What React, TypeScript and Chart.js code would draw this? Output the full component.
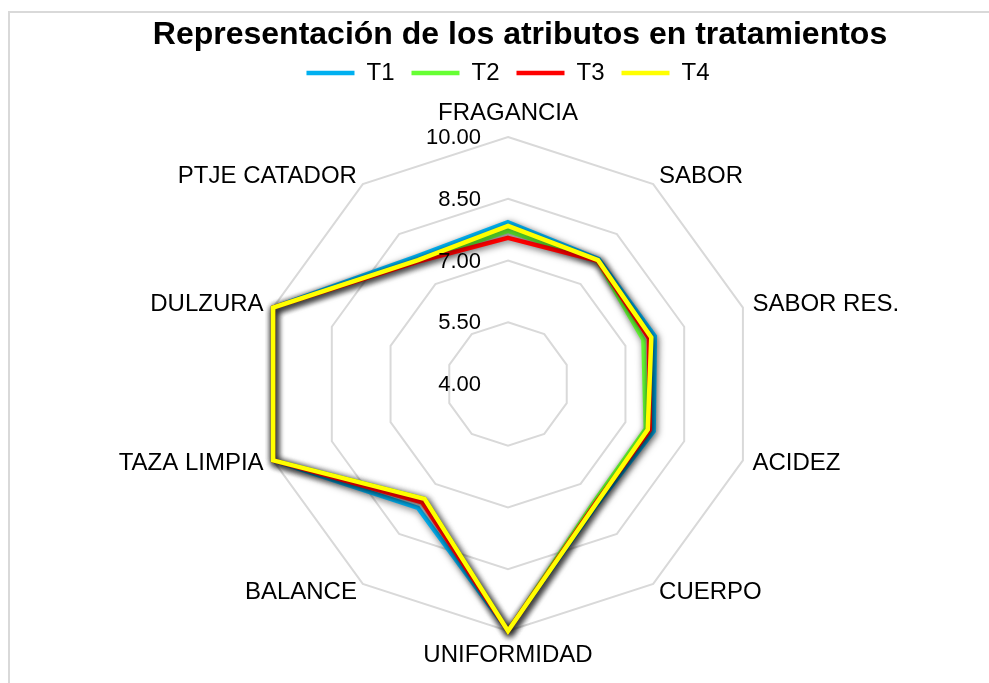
import React, { useEffect, useRef } from "react";
import { Chart, registerables } from "chart.js";

Chart.register(...registerables);

const categories = [
  "FRAGANCIA",
  "SABOR",
  "SABOR RES.",
  "ACIDEZ",
  "CUERPO",
  "UNIFORMIDAD",
  "BALANCE",
  "TAZA LIMPIA",
  "DULZURA",
  "PTJE CATADOR",
];
const seriesNames = ["T1", "T2", "T3", "T4"];
const t1Values = [7.93, 7.75, 7.75, 7.72, 7.65, 10, 7.72, 10, 10, 7.82];
const t2Values = [7.72, 7.7, 7.46, 7.52, 7.55, 10, 7.45, 10, 10, 7.7];
const t3Values = [7.55, 7.7, 7.6, 7.62, 7.6, 10, 7.55, 10, 10, 7.68];
const t4Values = [7.84, 7.72, 7.66, 7.57, 7.62, 10, 7.45, 10, 10, 7.72];
const seriesColors = ["#00B0F0", "#66FF33", "#FF0000", "#FFFF00"];
const scaleMin = 4;
const scaleMax = 10;
const scaleStep = 1.5;
const titleText = "Representación de los atributos en tratamientos";

const FONT = "'Liberation Sans', Arial, sans-serif";

export default function App() {
  const ref = useRef<HTMLCanvasElement | null>(null);

  useEffect(() => {
    if (!ref.current) return;
    const allSeries = [t1Values, t2Values, t3Values, t4Values];

    const shadowPlugin = {
      id: "lineShadow",
      beforeDatasetDraw(chart: any) {
        const c = chart.ctx;
        c.save();
        c.shadowColor = "rgba(0,0,0,0.6)";
        c.shadowBlur = 7;
        c.shadowOffsetX = 1.5;
        c.shadowOffsetY = 2;
      },
      afterDatasetDraw(chart: any) {
        chart.ctx.restore();
      },
    };

    const textPlugin = {
      id: "radarText",
      afterDraw(chart: any) {
        const s = chart.scales.r;
        const c = chart.ctx;
        c.save();
        c.fillStyle = "#000";
        // tick labels
        c.font = `22px ${FONT}`;
        c.textAlign = "right";
        c.textBaseline = "middle";
        s.ticks.forEach((t: any) => {
          const y = s.yCenter - s.getDistanceFromCenterForValue(t.value);
          c.fillText(Number(t.value).toFixed(2), s.xCenter - 27, y + 1);
        });
        // point labels
        c.font = `24px ${FONT}`;
        categories.forEach((lab, i) => {
          const p = s.getPointPosition(i, s.drawingArea + 10);
          const dx = p.x - s.xCenter;
          let y = p.y;
          if (Math.abs(dx) < 2) {
            c.textAlign = "center";
            y += p.y < s.yCenter ? -14 : 14;
          } else {
            c.textAlign = dx > 0 ? "left" : "right";
          }
          c.fillText(lab, p.x, y);
        });
        // title
        c.font = `bold 32px ${FONT}`;
        c.textAlign = "center";
        c.fillText(titleText, s.xCenter + 12, 35);
        c.restore();
      },
    };

    const chart = new Chart(ref.current, {
      type: "radar",
      data: {
        labels: categories,
        datasets: allSeries.map((d, i) => ({
          label: seriesNames[i],
          data: d,
          order: allSeries.length - 1 - i,
          borderColor: seriesColors[i],
          backgroundColor: seriesColors[i],
          borderWidth: 4.5,
          fill: false,
          pointRadius: 0,
          pointHoverRadius: 0,
          borderCapStyle: "round",
          borderJoinStyle: "miter",
          tension: 0,
        })),
      },
      options: {
        responsive: false,
        animation: false,
        layout: { padding: { left: 261, right: 234, top: 44, bottom: 9 } },
        plugins: {
          legend: {
            position: "top",
            labels: {
              usePointStyle: true,
              pointStyle: "line",
              pointStyleWidth: 48,
              padding: 17,
              color: "#000",
              font: { family: FONT, size: 24 },
              sort: (a: any, b: any) => a.datasetIndex - b.datasetIndex,
            },
          },
          title: { display: false },
          tooltip: { enabled: false },
        },
        scales: {
          r: {
            min: scaleMin,
            max: scaleMax,
            ticks: { stepSize: scaleStep, display: false },
            pointLabels: { display: false },
            angleLines: { display: false },
            grid: { color: "#d9d9d9", lineWidth: 2 },
          },
        },
      } as any,
      plugins: [shadowPlugin, textPlugin],
    });
    return () => chart.destroy();
  }, []);

  return (
    <div
      style={{
        position: "absolute",
        left: 0,
        top: 0,
        width: 989,
        height: 683,
        background: "#fff",
        overflow: "hidden",
      }}
    >
      <div
        style={{
          position: "absolute",
          left: 8,
          top: 11,
          width: 989,
          height: 683,
          borderTop: "2px solid #d9d9d9",
          borderLeft: "2px solid #d9d9d9",
        }}
      />
      <canvas
        ref={ref}
        width={989}
        height={683}
        style={{ position: "absolute", left: 0, top: 0, display: "block" }}
      />
    </div>
  );
}
